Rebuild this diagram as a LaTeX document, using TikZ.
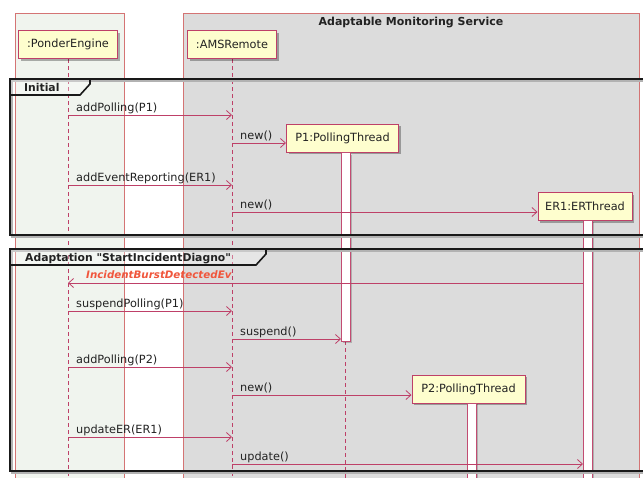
\documentclass[tikz,border=0pt]{standalone}
\usepackage{fontspec}
\setmainfont{DejaVu Sans}[Ligatures=TeXOff]
\usetikzlibrary{arrows.meta,shadows}
\definecolor{umlred}{HTML}{A80036}
\definecolor{partfill}{HTML}{FEFECE}
\definecolor{boxborder}{HTML}{D47474}
\definecolor{pefill}{HTML}{F0F4EE}
\definecolor{amsfill}{HTML}{DCDCDC}
\definecolor{evred}{HTML}{F0563C}
\definecolor{inkcol}{HTML}{222222}
\pgfdeclarelayer{bg}
\pgfsetlayers{bg,main}
\begin{document}
\begin{tikzpicture}[x=1pt,y=-1pt,
  txt/.style={font=\fontsize{11.3}{13}\selectfont, text=inkcol},
  part/.style={draw=umlred!75, line width=1pt, fill=partfill, minimum height=28pt,
    inner sep=0pt, font=\fontsize{11.3}{13}\selectfont, text=inkcol,
    drop shadow={shadow xshift=2pt,shadow yshift=-2pt,opacity=0.3,fill=black}},
  boxline/.style={draw=boxborder, line width=0.9pt},
  life/.style={draw=umlred!75, line width=0.7pt, dash pattern=on 4pt off 3pt},
  actbar/.style={draw=umlred!70, fill=white, line width=0.9pt},
  msg/.style={draw=umlred!75, line width=0.8pt, -{Straight Barb[length=5pt,width=9pt]}},
  lbl/.style={txt, anchor=base west, inner sep=0pt},
  framebox/.style={draw=black!90, line width=1.6pt},
  frameshadow/.style={draw=black!30, line width=1.6pt},
  tablabel/.style={anchor=base west, inner sep=0pt, font=\bfseries\fontsize{10.8}{12}\selectfont, text=inkcol},
]
\useasboundingbox (0,0) rectangle (643,477);
\clip (0,0) rectangle (643,477);

% participants
\node[part, minimum width=99pt] (pe) at (68,44.5) {:PonderEngine};
\node[part, minimum width=89pt] (ams) at (232,44.5) {:AMSRemote};
\node[part, minimum width=112pt] (p1) at (342.5,138) {P1:PollingThread};
\node[part, minimum width=94pt] (er1) at (585,206.5) {ER1:ERThread};
\node[part, minimum width=113pt] (p2) at (468.5,389) {P2:PollingThread};

% message rows
\coordinate (y1) at (0,115);
\coordinate (y2) at (0,143);
\coordinate (y3) at (0,185);
\coordinate (y4) at (0,212);
\coordinate (y5) at (0,283);
\coordinate (y6) at (0,311);
\coordinate (y7) at (0,339);
\coordinate (y8) at (0,367);
\coordinate (y9) at (0,395);
\coordinate (y10) at (0,437);
\coordinate (y11) at (0,464);
\coordinate (ybot) at (0,490);

\begin{pgfonlayer}{bg}
  \fill[white] (0,0) rectangle (643,477);
  % grouping boxes
  \draw[boxline, fill=pefill] (15,13) rectangle (124,495);
  \draw[boxline, fill=amsfill] (183,13) rectangle (639,495);
  % lifelines
  \draw[life] (pe.south) -- (pe |- ybot);
  \draw[life] (ams.south) -- (ams |- ybot);
  \draw[life] (345,341) -- (345,490);
\end{pgfonlayer}

\node[anchor=base, inner sep=0pt, font=\bfseries\fontsize{11}{13}\selectfont, text=inkcol] (amstitle) at (411,25) {Adaptable Monitoring Service};

% activation bars
\fill[black, opacity=0.2] (343,155) rectangle (352,343);
\draw[actbar] (341,152) rectangle (350,341);
\coordinate (p1bar) at (341,341);
\fill[black, opacity=0.2] (585,222) rectangle (594,495);
\draw[actbar] (583,220) rectangle (592,495);
\coordinate (er1bar) at (583,0);
\fill[black, opacity=0.2] (469,404) rectangle (478,495);
\draw[actbar] (467,403) rectangle (476,495);

% frames
\draw[frameshadow] (12,81) rectangle (660,237);
\draw[framebox] (10,79) rectangle (660,235);
\draw[framebox, fill=white, fill opacity=0.3] (10,79) -- (90,79) -- (90,84) -- (80,95) -- (10,95) -- cycle;
\node[tablabel] (finit) at (24,91.5) {Initial};

\draw[frameshadow] (12,251) rectangle (660,473);
\draw[framebox] (10,249) rectangle (660,471);
\draw[framebox, fill=white, fill opacity=0.3] (10,249) -- (266,249) -- (266,254) -- (256,265) -- (10,265) -- cycle;
\node[tablabel] (fadapt) at (25,261.5) {Adaptation "StartIncidentDiagno"};

% messages
\draw[msg] (pe |- y1) -- (ams |- y1);
\path (pe |- y1) ++(8,-4) node[lbl] (l1) {addPolling(P1)};
\draw[msg] (ams |- y2) -- (p1.west |- y2);
\path (ams |- y2) ++(8,-4) node[lbl] (l2) {new()};
\draw[msg] (pe |- y3) -- (ams |- y3);
\path (pe |- y3) ++(8,-4) node[lbl] (l3) {addEventReporting(ER1)};
\draw[msg] (ams |- y4) -- (er1.west |- y4);
\path (ams |- y4) ++(8,-4) node[lbl] (l4) {new()};
\draw[msg] (er1bar |- y5) -- (pe |- y5);
\path (pe |- y5) ++(18,-5) node[anchor=base west, inner sep=0pt, font=\bfseries\itshape\fontsize{10.3}{12}\selectfont, text=evred] (l5) {IncidentBurstDetectedEv};
\draw[msg] (pe |- y6) -- (ams |- y6);
\path (pe |- y6) ++(8,-4) node[lbl] (l6) {suspendPolling(P1)};
\draw[msg] (ams |- y7) -- (p1bar |- y7);
\path (ams |- y7) ++(8,-4) node[lbl] (l7) {suspend()};
\draw[msg] (pe |- y8) -- (ams |- y8);
\path (pe |- y8) ++(8,-4) node[lbl] (l8) {addPolling(P2)};
\draw[msg] (ams |- y9) -- (p2.west |- y9);
\path (ams |- y9) ++(8,-4) node[lbl] (l9) {new()};
\draw[msg] (pe |- y10) -- (ams |- y10);
\path (pe |- y10) ++(8,-4) node[lbl] (l10) {updateER(ER1)};
\draw[msg] (ams |- y11) -- (er1bar |- y11);
\path (ams |- y11) ++(8,-4) node[lbl] (l11) {update()};
\end{tikzpicture}
\end{document}
